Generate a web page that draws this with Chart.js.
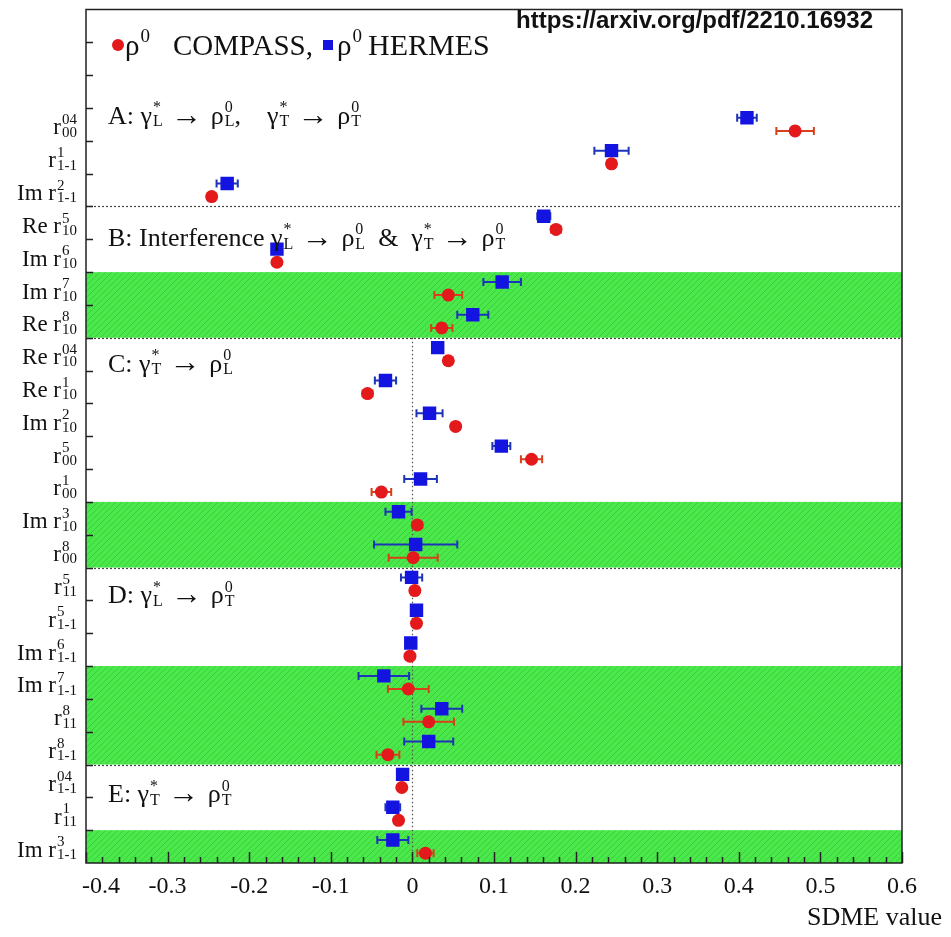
<!DOCTYPE html>
<html>
<head>
<meta charset="utf-8">
<script src="https://cdn.jsdelivr.net/npm/chart.js@4.4.0/dist/chart.umd.min.js"></script>
<style>
  html, body { margin: 0; padding: 0; background: #fff; }
  #wrap { width: 951px; height: 937px; position: relative; }
</style>
</head>
<body>
<div id="wrap"><canvas id="sdme"></canvas></div>
<script>
// SDME rows from top to bottom: prefix, superscript, subscript
const rowPrefix = ['', '', 'Im ', 'Re ', 'Im ', 'Im ', 'Re ', 'Re ', 'Re ', 'Im ', '', '', 'Im ', '', '', '', 'Im ', 'Im ', '', '', '', '', 'Im '];
const rowSup = ['04', '1', '2', '5', '6', '7', '8', '04', '1', '2', '5', '1', '3', '8', '5', '5', '6', '7', '8', '8', '04', '1', '3'];
const rowSub = ['00', '1-1', '1-1', '10', '10', '10', '10', '10', '10', '10', '00', '00', '10', '00', '11', '1-1', '1-1', '1-1', '11', '1-1', '1-1', '11', '1-1'];

const compassValue = [0.469, 0.244, -0.246, 0.176, -0.166, 0.044, 0.036, 0.044, -0.055, 0.053, 0.146, -0.038, 0.006, 0.001, 0.003, 0.005, -0.003, -0.005, 0.020, -0.030, -0.013, -0.017, 0.016];
const compassError = [0.023, 0.005, 0.005, 0.006, 0.005, 0.017, 0.013, 0.005, 0.006, 0.005, 0.013, 0.012, 0.006, 0.030, 0.005, 0.004, 0.005, 0.025, 0.031, 0.014, 0.004, 0.005, 0.010];
const hermesValue = [0.410, 0.244, -0.227, 0.161, -0.166, 0.110, 0.074, 0.031, -0.033, 0.021, 0.109, 0.010, -0.017, 0.004, -0.001, 0.005, -0.002, -0.035, 0.036, 0.020, -0.012, -0.024, -0.024];
const hermesError = [0.012, 0.021, 0.013, 0.008, 0.004, 0.023, 0.019, 0.005, 0.013, 0.016, 0.011, 0.020, 0.016, 0.051, 0.013, 0.004, 0.005, 0.031, 0.025, 0.030, 0.005, 0.009, 0.019];

const xTickValues = [-0.4, -0.3, -0.2, -0.1, 0, 0.1, 0.2, 0.3, 0.4, 0.5, 0.6];
const xTickLabels = ['-0.4', '-0.3', '-0.2', '-0.1', '0', '0.1', '0.2', '0.3', '0.4', '0.5', '0.6'];

// first row of each class A..E, and the shaded row ranges
const sectionStart = [0, 3, 7, 14, 20];
const shadedRows = [[5, 6], [12, 13], [17, 19], [22, 22]];

const blankRows = 3;               // empty rows above the table (legend)
const totalRows = blankRows + rowSup.length;

const SERIF = '"Liberation Serif", "DejaVu Serif", serif';
const SANS = '"Liberation Sans", Arial, sans-serif';

// section captions: [base, sup, sub] pieces, baseline offset in rows
const sectionTitles = [
  { dy: 0.48, parts: [['A: \u03b3', '*', 'L'], [' \u2192 \u03c1', '0', 'L'], [',    \u03b3', '*', 'T'], [' \u2192 \u03c1', '0', 'T']] },
  { dy: 1.21, parts: [['B: Interference \u03b3', '*', 'L'], [' \u2192 \u03c1', '0', 'L'], ['  &  \u03b3', '*', 'T'], [' \u2192 \u03c1', '0', 'T']] },
  { dy: 1.03, parts: [['C: \u03b3', '*', 'T'], [' \u2192 \u03c1', '0', 'L']] },
  { dy: 1.09, parts: [['D: \u03b3', '*', 'L'], [' \u2192 \u03c1', '0', 'T']] },
  { dy: 1.15, parts: [['E: \u03b3', '*', 'T'], [' \u2192 \u03c1', '0', 'T']] }
];

const RED = '#e3191c';
const BLUE = '#1414e0';
const ARROW = '\u2192';

// hatched green fill
const hatchCanvas = document.createElement('canvas');
hatchCanvas.width = 6; hatchCanvas.height = 6;
(function () {
  const p = hatchCanvas.getContext('2d');
  p.fillStyle = '#4ae84a';
  p.fillRect(0, 0, 6, 6);
  p.strokeStyle = 'rgba(30,160,30,0.35)';
  p.lineWidth = 1;
  p.beginPath();
  p.moveTo(0, 6); p.lineTo(6, 0);
  p.moveTo(-1, 1); p.lineTo(1, -1);
  p.moveTo(5, 7); p.lineTo(7, 5);
  p.stroke();
})();

// base text; arrows get a bigger glyph with some room around them
function baseText(ctx, text, x, y, size, draw) {
  const pieces = text.split(ARROW);
  let w = 0;
  pieces.forEach((s, k) => {
    ctx.font = size + 'px ' + SERIF;
    if (draw) ctx.fillText(s, x + w, y);
    w += ctx.measureText(s).width;
    if (k < pieces.length - 1) {
      ctx.font = Math.round(size * 1.2) + 'px ' + SERIF;
      w += 2;
      if (draw) ctx.fillText(ARROW, x + w, y + size * 0.03);
      w += ctx.measureText(ARROW).width + 2;
    }
  });
  return w;
}

// text with stacked super/subscripts
function richWidth(ctx, parts, size, small) {
  let w = 0;
  parts.forEach(([b, sp, sb]) => {
    w += baseText(ctx, b, 0, 0, size, false);
    ctx.font = small + 'px ' + SERIF;
    if (sp || sb) w += Math.max(sp ? ctx.measureText(sp).width : 0, sb ? ctx.measureText(sb).width : 0) + 1;
  });
  return w;
}
function drawRich(ctx, x, y, parts, size, small) {
  ctx.textBaseline = 'alphabetic';
  ctx.textAlign = 'left';
  parts.forEach(([b, sp, sb]) => {
    x += baseText(ctx, b, x, y, size, true);
    ctx.font = small + 'px ' + SERIF;
    let sw = 0;
    if (sp) { ctx.fillText(sp, x + 1, y - size * 0.45); sw = ctx.measureText(sp).width; }
    if (sb) { ctx.fillText(sb, x + 1, y + size * 0.1); sw = Math.max(sw, ctx.measureText(sb).width); }
    x += sw + (sp || sb ? 1 : 0);
  });
  return x;
}

function rowY(i, frac) { return blankRows + i + frac; }

const sdmeDecor = {
  id: 'sdmeDecor',
  beforeDatasetsDraw(chart) {
    const { ctx, chartArea: a, scales: { x, y } } = chart;
    ctx.save();

    ctx.fillStyle = ctx.createPattern(hatchCanvas, 'repeat');
    shadedRows.forEach(([r0, r1]) => {
      const top = y.getPixelForValue(blankRows + r0);
      const bot = y.getPixelForValue(blankRows + r1 + 1);
      ctx.fillRect(a.left, top, a.right - a.left, bot - top);
    });

    // class separators
    ctx.strokeStyle = '#444';
    ctx.lineWidth = 1.2;
    ctx.setLineDash([2, 2]);
    sectionStart.slice(1).forEach(r => {
      const py = Math.round(y.getPixelForValue(blankRows + r)) + 0.5;
      ctx.beginPath(); ctx.moveTo(a.left, py); ctx.lineTo(a.right, py); ctx.stroke();
    });

    // zero line through classes C..E
    ctx.strokeStyle = '#555';
    ctx.setLineDash([1.5, 2.5]);
    const zx = Math.round(x.getPixelForValue(0)) + 0.5;
    ctx.beginPath();
    ctx.moveTo(zx, y.getPixelForValue(blankRows + sectionStart[2]));
    ctx.lineTo(zx, a.bottom);
    ctx.stroke();
    ctx.setLineDash([]);

    // horizontal error bars
    function bars(vals, errs, frac, color) {
      ctx.strokeStyle = color;
      ctx.lineWidth = 2;
      vals.forEach((v, i) => {
        const py = y.getPixelForValue(rowY(i, frac));
        const x0 = x.getPixelForValue(v - errs[i]);
        const x1 = x.getPixelForValue(v + errs[i]);
        ctx.beginPath();
        ctx.moveTo(x0, py); ctx.lineTo(x1, py);
        ctx.moveTo(x0, py - 4); ctx.lineTo(x0, py + 4);
        ctx.moveTo(x1, py - 4); ctx.lineTo(x1, py + 4);
        ctx.stroke();
      });
    }
    bars(compassValue, compassError, 0.7, '#d8401c');
    bars(hermesValue, hermesError, 0.3, '#1c34b8');
    ctx.restore();
  },
  afterDraw(chart) {
    const { ctx, chartArea: a, scales: { x, y } } = chart;
    ctx.save();
    ctx.fillStyle = '#111';
    ctx.strokeStyle = '#222';
    ctx.lineWidth = 1.5;

    // ticks on the bottom and left axes
    ctx.beginPath();
    for (let k = 0; k <= 50; k++) {
      const v = -0.4 + k * 0.02;
      const px = Math.round(x.getPixelForValue(v)) + 0.5;
      const len = k % 5 === 0 ? 11 : 6;
      ctx.moveTo(px, a.bottom); ctx.lineTo(px, a.bottom - len);
    }
    for (let r = 1; r < totalRows; r++) {
      const py = Math.round(y.getPixelForValue(r)) + 0.5;
      ctx.moveTo(a.left, py); ctx.lineTo(a.left + 7, py);
    }
    ctx.stroke();
    ctx.strokeRect(a.left, a.top, a.right - a.left, a.bottom - a.top);

    // x tick labels
    ctx.font = '24px ' + SERIF;
    ctx.textBaseline = 'alphabetic';
    ctx.textAlign = 'left';
    xTickValues.forEach((v, i) => {
      const w = ctx.measureText(xTickLabels[i]).width;
      let lx = x.getPixelForValue(v) - w / 2;
      if (lx < a.left - 4) lx = a.left - 4;
      ctx.fillText(xTickLabels[i], lx, a.bottom + 30);
    });

    // axis title
    ctx.font = '26px ' + SERIF;
    ctx.textAlign = 'right';
    ctx.fillText('SDME value', 942, 925);

    // row labels
    rowSup.forEach((sp, i) => {
      const c = y.getPixelForValue(rowY(i, 0.5));
      const parts = [[rowPrefix[i] + 'r', sp, rowSub[i]]];
      const w = richWidth(ctx, parts, 23, 15);
      drawRich(ctx, a.left - 9 - w, c + 10, parts, 23, 15);
    });

    // class captions
    sectionTitles.forEach((s, k) => {
      const by = y.getPixelForValue(blankRows + sectionStart[k] + s.dy);
      drawRich(ctx, 108, by, s.parts, 26, 16);
    });

    // legend
    const ly = 55;
    ctx.fillStyle = RED;
    ctx.beginPath(); ctx.arc(118, 45, 6, 0, Math.PI * 2); ctx.fill();
    ctx.fillStyle = '#111';
    drawRich(ctx, 125, ly, [['\u03c1', '0', '']], 29, 19);
    drawRich(ctx, 173, ly, [['COMPASS,', '', '']], 29, 19);
    ctx.fillStyle = BLUE;
    ctx.fillRect(323, 40, 10, 10);
    ctx.fillStyle = '#111';
    drawRich(ctx, 337, ly, [['\u03c1', '0', '']], 29, 19);
    drawRich(ctx, 368, ly, [['HERMES', '', '']], 30, 19);

    // reference link
    ctx.font = 'bold 24px ' + SANS;
    ctx.textAlign = 'left';
    ctx.fillText('https://arxiv.org/pdf/2210.16932', 516, 28);
    ctx.restore();
  }
};

new Chart(document.getElementById('sdme'), {
  type: 'scatter',
  data: {
    datasets: [
      {
        label: 'COMPASS',
        data: compassValue.map((v, i) => ({ x: v, y: rowY(i, 0.7) })),
        pointStyle: 'circle',
        pointRadius: 6.5,
        backgroundColor: RED,
        borderColor: RED,
        borderWidth: 0
      },
      {
        label: 'HERMES',
        data: hermesValue.map((v, i) => ({ x: v, y: rowY(i, 0.3) })),
        pointStyle: 'rect',
        pointRadius: 9.5,
        backgroundColor: BLUE,
        borderColor: BLUE,
        borderWidth: 0
      }
    ]
  },
  options: {
    responsive: true,
    maintainAspectRatio: false,
    animation: false,
    layout: { padding: { top: 5, right: 49, left: 0, bottom: 0 } },
    plugins: { legend: { display: false }, tooltip: { enabled: false } },
    scales: {
      x: {
        type: 'linear', min: -0.4, max: 0.6,
        grid: { display: false }, border: { display: false }, ticks: { display: false },
        afterFit(s) { s.height = 74; }
      },
      y: {
        type: 'linear', min: 0, max: totalRows, reverse: true,
        grid: { display: false }, border: { display: false }, ticks: { display: false },
        afterFit(s) { s.width = 86; }
      }
    }
  },
  plugins: [sdmeDecor]
});
</script>
</body>
</html>
